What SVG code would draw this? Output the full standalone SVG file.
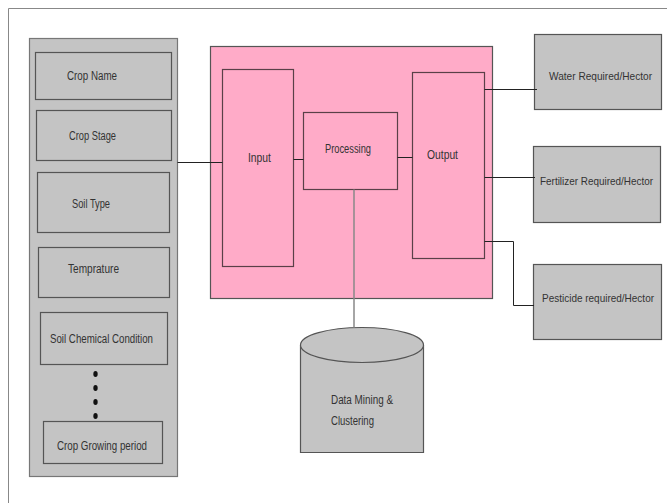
<svg xmlns="http://www.w3.org/2000/svg" width="667" height="503" viewBox="0 0 667 503">
  <style>
    .grey { fill: #c4c4c4; stroke: #555; stroke-width: 1.2; }
    .panel { fill: #c4c4c4; stroke: #777; stroke-width: 1.2; }
    .pink { fill: #ffabc8; stroke: #555; stroke-width: 1.2; }
    .inner { fill: #ffabc8; stroke: #5a4048; stroke-width: 1.2; }
    .lbl { font-family: "Liberation Sans", Arial, sans-serif; font-size: 12px; fill: #333; }
    .lbl-sm { font-family: "Liberation Sans", Arial, sans-serif; font-size: 10.5px; fill: #333; }
    .wire { fill: none; stroke: #222; stroke-width: 1; }
    .wire-grey { fill: none; stroke: #888; stroke-width: 1.5; }
  </style>

  <rect width="667" height="503" fill="#fff"/>
  <!-- page frame -->
  <path d="M8.5,503 V8.5 H667" fill="none" stroke="#888" stroke-width="1"/>

  <!-- input parameters panel -->
  <g id="parameters">
    <rect class="panel" x="29.5" y="38.5" width="148" height="438"/>
    <g id="crop-name">
      <rect class="grey" x="35.5" y="52.5" width="136" height="47"/>
      <text class="lbl" x="67" y="80" textLength="50" lengthAdjust="spacingAndGlyphs">Crop Name</text>
    </g>
    <g id="crop-stage">
      <rect class="grey" x="36.5" y="110.5" width="135" height="50"/>
      <text class="lbl" x="69" y="140" textLength="47" lengthAdjust="spacingAndGlyphs">Crop Stage</text>
    </g>
    <g id="soil-type">
      <rect class="grey" x="37.5" y="172.5" width="132" height="60"/>
      <text class="lbl" x="72" y="208" textLength="38" lengthAdjust="spacingAndGlyphs">Soil Type</text>
    </g>
    <g id="temprature">
      <rect class="grey" x="38.5" y="247.5" width="131" height="50"/>
      <text class="lbl" x="68" y="273" textLength="51" lengthAdjust="spacingAndGlyphs">Temprature</text>
    </g>
    <g id="soil-chemical">
      <rect class="grey" x="40.5" y="312.5" width="127" height="52"/>
      <text class="lbl" x="50" y="343" textLength="103" lengthAdjust="spacingAndGlyphs">Soil Chemical Condition</text>
    </g>
    <g id="ellipsis" fill="#111">
      <ellipse cx="95.5" cy="374" rx="2.2" ry="3"/>
      <ellipse cx="95.5" cy="388" rx="2.2" ry="3"/>
      <ellipse cx="95.5" cy="402" rx="2.2" ry="3"/>
      <ellipse cx="95.5" cy="416" rx="2.2" ry="3"/>
    </g>
    <g id="crop-growing">
      <rect class="grey" x="43.5" y="421.5" width="119" height="42"/>
      <text class="lbl" x="57" y="450" textLength="90" lengthAdjust="spacingAndGlyphs">Crop Growing period</text>
    </g>
  </g>

  <!-- system block -->
  <g id="system">
    <rect class="pink" x="210.5" y="46.5" width="282" height="252"/>
  </g>
  <g id="input">
    <rect class="inner" x="222.5" y="69.5" width="71" height="197"/>
    <text class="lbl" x="248" y="162" textLength="23" lengthAdjust="spacingAndGlyphs">Input</text>
  </g>
  <g id="processing">
    <rect class="inner" x="303.5" y="112.5" width="94" height="77"/>
    <text class="lbl" x="325" y="153" textLength="46" lengthAdjust="spacingAndGlyphs">Processing</text>
  </g>
  <g id="output">
    <rect class="inner" x="412.5" y="72.5" width="72" height="186"/>
    <text class="lbl" x="427" y="159" textLength="31" lengthAdjust="spacingAndGlyphs">Output</text>
  </g>

  <!-- results -->
  <g id="water">
    <rect class="grey" x="534.5" y="34.5" width="127" height="75"/>
    <text class="lbl-sm" x="549" y="80" textLength="103" lengthAdjust="spacingAndGlyphs">Water Required/Hector</text>
  </g>
  <g id="fertilizer">
    <rect class="grey" x="533.5" y="146.5" width="127" height="76"/>
    <text class="lbl-sm" x="540" y="185" textLength="113" lengthAdjust="spacingAndGlyphs">Fertilizer Required/Hector</text>
  </g>
  <g id="pesticide">
    <rect class="grey" x="533.5" y="264.5" width="128" height="75"/>
    <text class="lbl-sm" x="542" y="302" textLength="112" lengthAdjust="spacingAndGlyphs">Pesticide required/Hector</text>
  </g>

  <!-- knowledge store -->
  <g id="data-mining">
    <path class="grey" d="M300.5,345 V452.5 H423.5 V345"/>
    <ellipse class="grey" cx="362" cy="345" rx="61.5" ry="17.5"/>
    <text class="lbl" x="331" y="404" textLength="62" lengthAdjust="spacingAndGlyphs">Data Mining &amp;</text>
    <text class="lbl" x="331" y="425" textLength="43" lengthAdjust="spacingAndGlyphs">Clustering</text>
  </g>

  <!-- connectors -->
  <g id="connectors">
    <path class="wire" d="M177.5,162.5 H222.5"/>
    <path class="wire" d="M293.5,159.5 H303.5"/>
    <path class="wire" d="M397.5,157.5 H412.5"/>
    <path class="wire" d="M484.5,89.5 H537"/>
    <path class="wire" d="M484.5,177.5 H535"/>
    <path class="wire" d="M484.5,241.5 H513.5 V305.5 H534"/>
    <path class="wire-grey" d="M354,189.5 V327.5"/>
  </g>
</svg>
